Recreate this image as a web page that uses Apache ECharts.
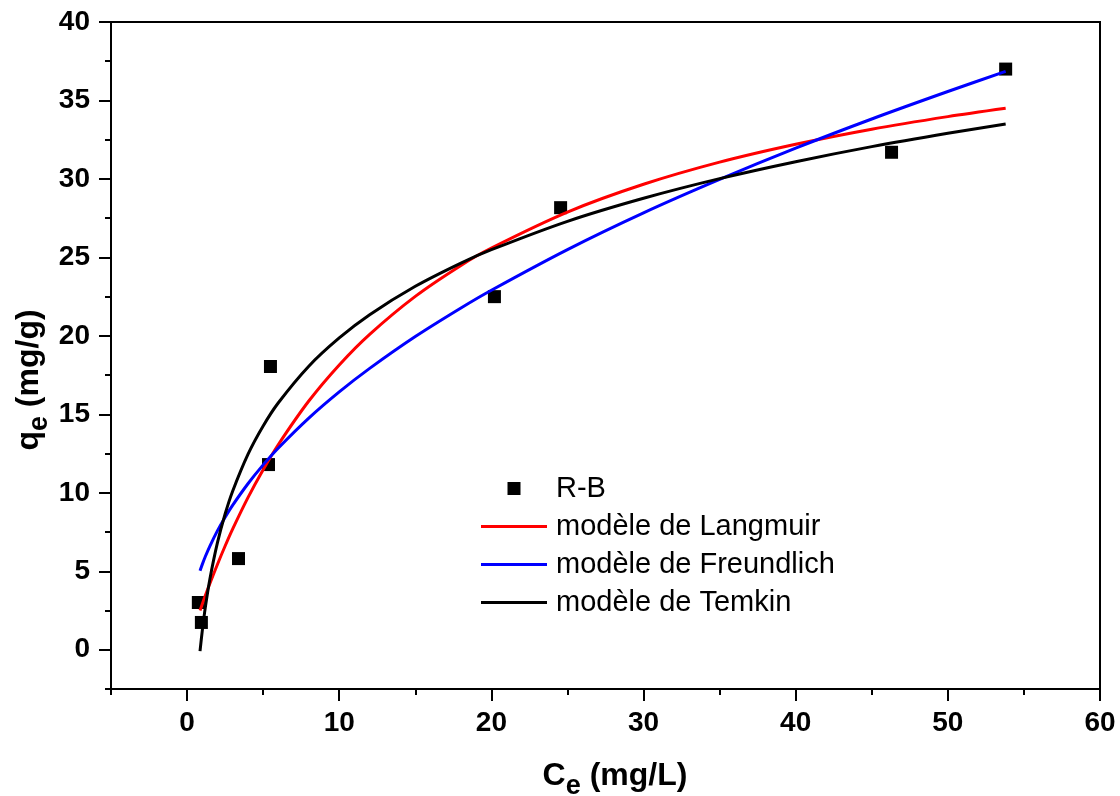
<!DOCTYPE html>
<html>
<head>
<meta charset="utf-8">
<script src="https://cdn.jsdelivr.net/npm/echarts@6/dist/echarts.min.js"></script>
<style>
html,body{margin:0;padding:0;background:#fff;}
#chart{width:1120px;height:796px;}
</style>
</head>
<body>
<div id="chart"></div>
<script>
// ---- data ----
var ceData = [0.74, 0.94, 3.38, 5.35, 5.48, 20.2, 24.55, 46.3, 53.8];
var qeData = [3.01, 1.74, 5.81, 11.8, 18.05, 22.5, 28.17, 31.7, 37.0];

var ceFit = [0.85, 1, 1.2, 1.5, 2, 2.5, 3, 4, 5, 6, 8, 10, 12, 15, 18, 20, 25, 30, 35, 40, 45, 50, 53.8];
var qLangmuir = [2.50, 2.91, 3.45, 4.22, 5.45, 6.61, 7.70, 9.69, 11.47, 13.08, 15.85, 18.15, 20.10, 22.52, 24.49, 25.60, 27.89, 29.66, 31.07, 32.21, 33.17, 33.97, 34.50];
var qFreundlich = [5.03, 5.44, 5.94, 6.61, 7.59, 8.45, 9.22, 10.58, 11.78, 12.86, 14.76, 16.43, 17.93, 19.96, 21.78, 22.91, 25.50, 27.84, 29.97, 31.96, 33.82, 35.57, 36.85];
var qTemkin = [-0.09, 1.22, 2.70, 4.51, 6.84, 8.65, 10.12, 12.45, 14.26, 15.74, 18.07, 19.87, 21.35, 23.16, 24.64, 25.49, 27.30, 28.77, 30.02, 31.10, 32.06, 32.91, 33.50];

var xMajor = [0, 10, 20, 30, 40, 50, 60];
var xMinor = [-5, 5, 15, 25, 35, 45, 55];
var yMajor = [0, 5, 10, 15, 20, 25, 30, 35, 40];
var yMinor = [-2.5, 2.5, 7.5, 12.5, 17.5, 22.5, 27.5, 32.5, 37.5];

var seriesNames = ['R-B', 'modèle de Langmuir', 'modèle de Freundlich', 'modèle de Temkin'];

function pairs(xs, ys) { return xs.map(function (x, i) { return [x, ys[i]]; }); }

var FONT = 'Arial, "Liberation Sans", sans-serif';
var chart = echarts.init(document.getElementById('chart'), null, { renderer: 'canvas' });

function tickAxis(kind, pos, values, len, labelValues) {
  var a = {
    type: 'value',
    position: pos,
    splitLine: { show: false },
    axisLine: { show: false, onZero: false },
    axisTick: { show: true, inside: false, length: len, customValues: values, lineStyle: { color: '#000', width: 2 } },
    axisLabel: { show: false }
  };
  if (kind === 'x') { a.min = -5; a.max = 60; } else { a.min = -2.5; a.max = 40; }
  if (labelValues) {
    a.axisLabel = { show: true, customValues: labelValues, margin: kind === 'x' ? 20 : 21, color: '#000', fontSize: 28, fontWeight: 'bold', fontFamily: FONT };
  }
  return a;
}

var lineIcon = 'path://M0,0L66,0L66,3L0,3Z';
var squareIcon = 'path://M0,0L1,0L1,1L0,1Z';

var titleRich = {
  b: { fontSize: 32, fontWeight: 'bold', fontFamily: FONT, lineHeight: 48, verticalAlign: 'middle', fill: '#000' },
  s: { fontSize: 27, fontWeight: 'bold', fontFamily: FONT, verticalAlign: 'bottom', fill: '#000' }
};

var option = {
  backgroundColor: '#fff',
  animation: false,
  grid: { left: 111, right: 20, top: 22, bottom: 107, containLabel: false, show: true, borderColor: '#000', borderWidth: 2, backgroundColor: 'transparent' },
  xAxis: [
    tickAxis('x', 'bottom', xMajor, 12, xMajor),
    tickAxis('x', 'bottom', xMinor, 6, null)
  ],
  yAxis: [
    tickAxis('y', 'left', yMajor, 12, yMajor),
    tickAxis('y', 'left', yMinor, 6, null)
  ],
  legend: {
    orient: 'vertical',
    left: 481,
    top: 474,
    padding: 0,
    itemWidth: 66,
    itemHeight: 13,
    itemGap: 9,
    data: [
      { name: seriesNames[0], icon: squareIcon },
      { name: seriesNames[1], icon: lineIcon },
      { name: seriesNames[2], icon: lineIcon },
      { name: seriesNames[3], icon: lineIcon }
    ],
    textStyle: { color: '#000', fontSize: 29, lineHeight: 28, fontFamily: FONT, padding: [0, 0, 0, 4] }
  },
  graphic: [
    {
      type: 'text',
      x: 29, y: 380,
      rotation: Math.PI / 2,
      style: { text: '{b|q}{s|e}{b| (mg/g)}', align: 'center', verticalAlign: 'middle', fill: '#000', rich: titleRich }
    },
    {
      type: 'text',
      x: 615, y: 776,
      style: { text: '{b|C}{s|e}{b| (mg/L)}', align: 'center', verticalAlign: 'middle', fill: '#000', rich: titleRich }
    }
  ],
  series: [
    {
      name: seriesNames[0], type: 'scatter', xAxisIndex: 0, yAxisIndex: 0,
      symbol: 'rect', symbolSize: 13,
      itemStyle: { color: '#000', opacity: 1 },
      data: pairs(ceData, qeData), z: 2
    },
    {
      name: seriesNames[1], type: 'line', xAxisIndex: 0, yAxisIndex: 0,
      showSymbol: false, symbol: 'none', smooth: 0.3,
      lineStyle: { color: '#ff0000', width: 3 }, itemStyle: { color: '#ff0000' },
      data: pairs(ceFit, qLangmuir), z: 3
    },
    {
      name: seriesNames[2], type: 'line', xAxisIndex: 0, yAxisIndex: 0,
      showSymbol: false, symbol: 'none', smooth: 0.3,
      lineStyle: { color: '#0000ff', width: 3 }, itemStyle: { color: '#0000ff' },
      data: pairs(ceFit, qFreundlich), z: 3
    },
    {
      name: seriesNames[3], type: 'line', xAxisIndex: 0, yAxisIndex: 0,
      showSymbol: false, symbol: 'none', smooth: 0.3,
      lineStyle: { color: '#000000', width: 3 }, itemStyle: { color: '#000000' },
      data: pairs(ceFit, qTemkin), z: 3
    }
  ]
};
chart.setOption(option);
</script>
</body>
</html>
